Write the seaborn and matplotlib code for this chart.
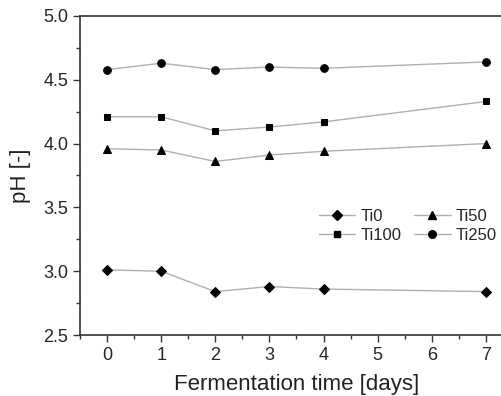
import seaborn as sns
import matplotlib.pyplot as plt
import pandas as pd
from matplotlib.ticker import MultipleLocator
from matplotlib.lines import Line2D

days = [0, 1, 2, 3, 4, 7]
ti0 = [3.01, 3.00, 2.84, 2.88, 2.86, 2.84]
ti50 = [3.96, 3.95, 3.86, 3.91, 3.94, 4.00]
ti100 = [4.21, 4.21, 4.10, 4.13, 4.17, 4.33]
ti250 = [4.58, 4.63, 4.58, 4.60, 4.59, 4.64]
series_names = ['Ti0', 'Ti50', 'Ti100', 'Ti250']
markers = {'Ti0': 'D', 'Ti50': '^', 'Ti100': 's', 'Ti250': 'o'}
marker_sizes = {'Ti0': 5, 'Ti50': 6, 'Ti100': 5, 'Ti250': 5.5}

df = pd.DataFrame({'day': days * 4,
                   'pH': ti0 + ti50 + ti100 + ti250,
                   'sample': [n for n in series_names for _ in days]})

sns.set_style('ticks')
plt.rcParams['font.family'] = ['Liberation Sans', 'DejaVu Sans']

fig = plt.figure(figsize=(5.02, 3.96), dpi=100)
ax = fig.add_axes([80 / 502, 1 - 335 / 396, (513 - 80) / 502, (335 - 16) / 396])

line_col = '#b0b0b0'
for name in series_names:
    sub = df[df['sample'] == name]
    sns.lineplot(data=sub, x='day', y='pH', ax=ax, color=line_col, lw=1.0,
                 marker=markers[name], markersize=marker_sizes[name],
                 markerfacecolor='black', markeredgecolor='black', legend=False)

ax.set_xlim(-0.5, 7.5)
ax.set_ylim(2.5, 5.0)
ax.xaxis.set_major_locator(MultipleLocator(1))
ax.xaxis.set_minor_locator(MultipleLocator(0.5))
ax.yaxis.set_major_locator(MultipleLocator(0.5))
ax.yaxis.set_minor_locator(MultipleLocator(0.25))
ax.yaxis.set_major_formatter(plt.FormatStrFormatter('%.1f'))
ax.tick_params(which='major', direction='out', length=5, width=1, labelsize=13, color='#333333')
ax.tick_params(which='minor', direction='out', length=3, width=1, color='#333333')
for s in ax.spines.values():
    s.set_color('#333333')
    s.set_linewidth(1.2)

ax.set_xlabel('Fermentation time [days]', fontsize=16, color='#222222', labelpad=7)
ax.set_ylabel('pH [-]', fontsize=16, color='#222222', labelpad=9)

handles = [Line2D([], [], color=line_col, lw=1.0, marker=markers[n],
                  markersize=marker_sizes[n], markerfacecolor='black',
                  markeredgecolor='black') for n in ['Ti0', 'Ti100', 'Ti50', 'Ti250']]
ax.legend(handles, ['Ti0', 'Ti100', 'Ti50', 'Ti250'], ncol=2, frameon=False,
          fontsize=12, loc='upper left', bbox_to_anchor=(0.536, 0.415),
          handlelength=2.2, handletextpad=0.3, columnspacing=0.75,
          labelspacing=0.2, borderaxespad=0)

fig.savefig('out.png', dpi=100)
